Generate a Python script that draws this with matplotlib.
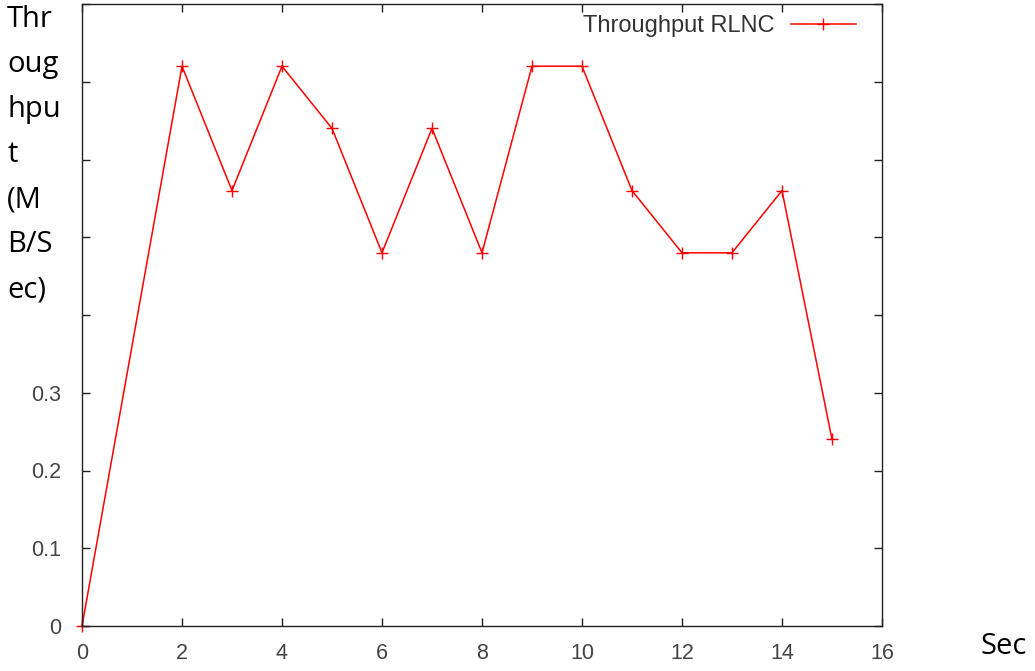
import matplotlib
matplotlib.use("Agg")
import matplotlib.pyplot as plt

# data (no sample at second 1)
seconds = [0, 2, 3, 4, 5, 6, 7, 8, 9, 10, 11, 12, 13, 14, 15]
throughput = [0.0, 0.72, 0.56, 0.72, 0.64, 0.48, 0.64, 0.48, 0.72, 0.72, 0.56, 0.48, 0.48, 0.56, 0.24]
x_ticks = [0, 2, 4, 6, 8, 10, 12, 14, 16]
y_ticks = [0, 0.1, 0.2, 0.3, 0.4, 0.5, 0.6, 0.7, 0.8]
y_labels = ["0", "0.1", "0.2", "0.3", "", "", "", "", ""]
ylabel_chunks = ["Thr", "oug", "hpu", "t", "(M", "B/S", "ec)"]

W, H = 1035, 671
fig = plt.figure(figsize=(W / 100, H / 100), dpi=100)
ax = fig.add_axes([82 / W, (H - 626) / H, 800 / W, 622 / H])

ax.plot(seconds, throughput, color="#ff0000", lw=1.1, marker="+", ms=8, mew=1.0,
        label="Throughput RLNC", clip_on=False)

ax.set_xlim(0, 16)
ax.set_ylim(0, 0.8)
ax.set_xticks(x_ticks)
ax.set_yticks(y_ticks)
ax.set_yticklabels(y_labels)
tick_font = "Liberation Sans"
ax.tick_params(direction="in", length=6, width=1, top=True, right=True,
               labelsize=15.5, labelcolor="#444444", colors="#222222")
ax.tick_params(axis="y", pad=15)
ax.tick_params(axis="x", pad=12, labelcolor="#444444")
for lab in ax.get_xticklabels() + ax.get_yticklabels():
    lab.set_family(tick_font)
for sp in ax.spines.values():
    sp.set_color("#222222")
    sp.set_linewidth(1)

leg = ax.legend(loc="upper right", bbox_to_anchor=(1 - 19 / 800, 1 - 4 / 622), frameon=False,
                prop={"family": tick_font, "size": 17},
                handlelength=2.75, markerfirst=False, borderaxespad=0.1,
                handletextpad=0.7, borderpad=0.2)
for t in leg.get_texts():
    t.set_color("#333333")

for i, chunk in enumerate(ylabel_chunks):
    fig.text(7 / W, 1 - (27 + 45 * i) / H, chunk, fontsize=21, family="Open Sans",
             va="baseline", ha="left", color="black")
fig.text(981 / W, 1 - 654 / H, "Sec", fontsize=21, family="Open Sans",
         va="baseline", ha="left", color="black")

fig.savefig("out.png", dpi=100)
